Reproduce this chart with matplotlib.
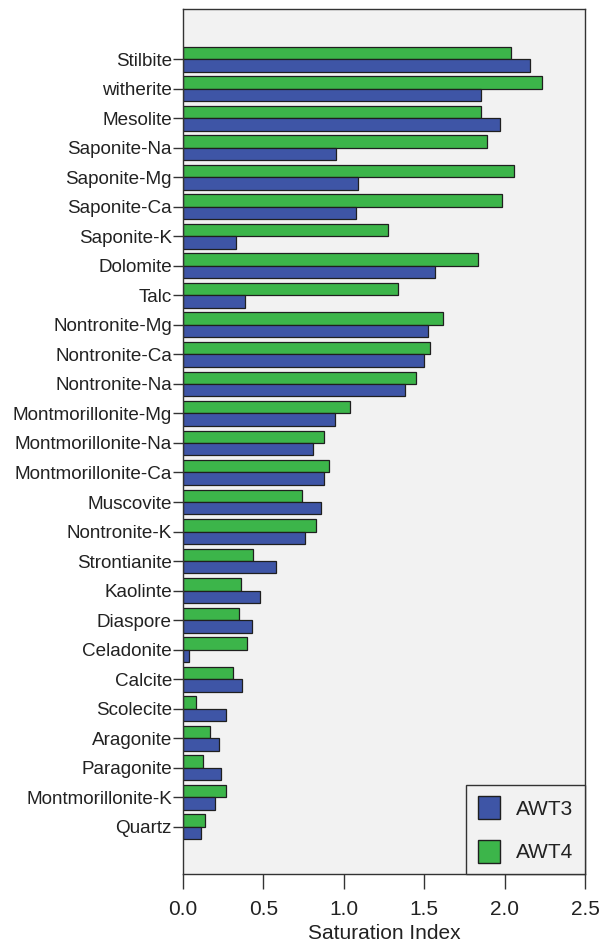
import matplotlib.pyplot as plt
import numpy as np
from matplotlib.patches import Patch

plt.rcParams['font.family'] = ['Liberation Sans', 'DejaVu Sans']

minerals = ["Stilbite", "witherite", "Mesolite", "Saponite-Na", "Saponite-Mg",
            "Saponite-Ca", "Saponite-K", "Dolomite", "Talc", "Nontronite-Mg",
            "Nontronite-Ca", "Nontronite-Na", "Montmorillonite-Mg",
            "Montmorillonite-Na", "Montmorillonite-Ca", "Muscovite", "Nontronite-K",
            "Strontianite", "Kaolinte", "Diaspore", "Celadonite", "Calcite",
            "Scolecite", "Aragonite", "Paragonite", "Montmorillonite-K", "Quartz"]

awt3 = [2.156, 1.851, 1.969, 0.952, 1.089, 1.073, 0.332, 1.566, 0.384, 1.521,
        1.500, 1.378, 0.948, 0.807, 0.876, 0.861, 0.757, 0.577, 0.481, 0.429,
        0.035, 0.367, 0.270, 0.224, 0.239, 0.199, 0.114]

awt4 = [2.037, 2.234, 1.855, 1.892, 2.058, 1.981, 1.274, 1.834, 1.336, 1.618,
        1.535, 1.450, 1.041, 0.876, 0.907, 0.743, 0.828, 0.434, 0.363, 0.349,
        0.396, 0.313, 0.081, 0.170, 0.124, 0.266, 0.135]

c_awt3 = "#3e55a6"
c_awt4 = "#3cb54a"
edge = "#1f1f1f"
txt = "#222222"

fig = plt.figure(figsize=(6.03, 9.46), dpi=100)
ax = fig.add_axes([0.3035, 0.0761, 0.6667, 0.9144])
ax.set_facecolor("#f2f2f2")

pos = np.arange(len(minerals))[::-1]
h = 0.42
ax.barh(pos + h / 2, awt4, height=h, color=c_awt4, edgecolor=edge, linewidth=0.9)
ax.barh(pos - h / 2, awt3, height=h, color=c_awt3, edgecolor=edge, linewidth=0.9)

ax.set_yticks(pos)
ax.set_yticklabels(minerals, fontsize=13.6, color=txt)
ax.set_ylim(-1.6, len(minerals) - 1 + 1.7)
ax.set_xlim(0, 2.5)
ax.set_xticks([0, 0.5, 1.0, 1.5, 2.0, 2.5])
ax.set_xticklabels(["0.0", "0.5", "1.0", "1.5", "2.0", "2.5"], fontsize=15, color=txt)
ax.set_xlabel("Saturation Index", fontsize=15, color=txt, labelpad=3)
ax.tick_params(axis="y", direction="out", length=7, width=1, pad=1, color="#333333")
ax.tick_params(axis="x", direction="out", length=11, width=1, pad=8, color="#333333")

for s in ax.spines.values():
    s.set_color("#333333")
    s.set_linewidth(1)

handles = [Patch(facecolor=c_awt3, edgecolor=edge, label="AWT3"),
           Patch(facecolor=c_awt4, edgecolor=edge, label="AWT4")]
leg = ax.legend(handles=handles, loc="lower right", borderaxespad=0, fontsize=15,
                handlelength=1.05, handleheight=1.3, labelspacing=1.0,
                handletextpad=0.8, borderpad=0.55, fancybox=False,
                facecolor="#f2f2f2", framealpha=1)
for t in leg.get_texts():
    t.set_color(txt)
leg.get_frame().set_edgecolor("#333333")
leg.get_frame().set_linewidth(1)

fig.savefig("out.png", dpi=100)
